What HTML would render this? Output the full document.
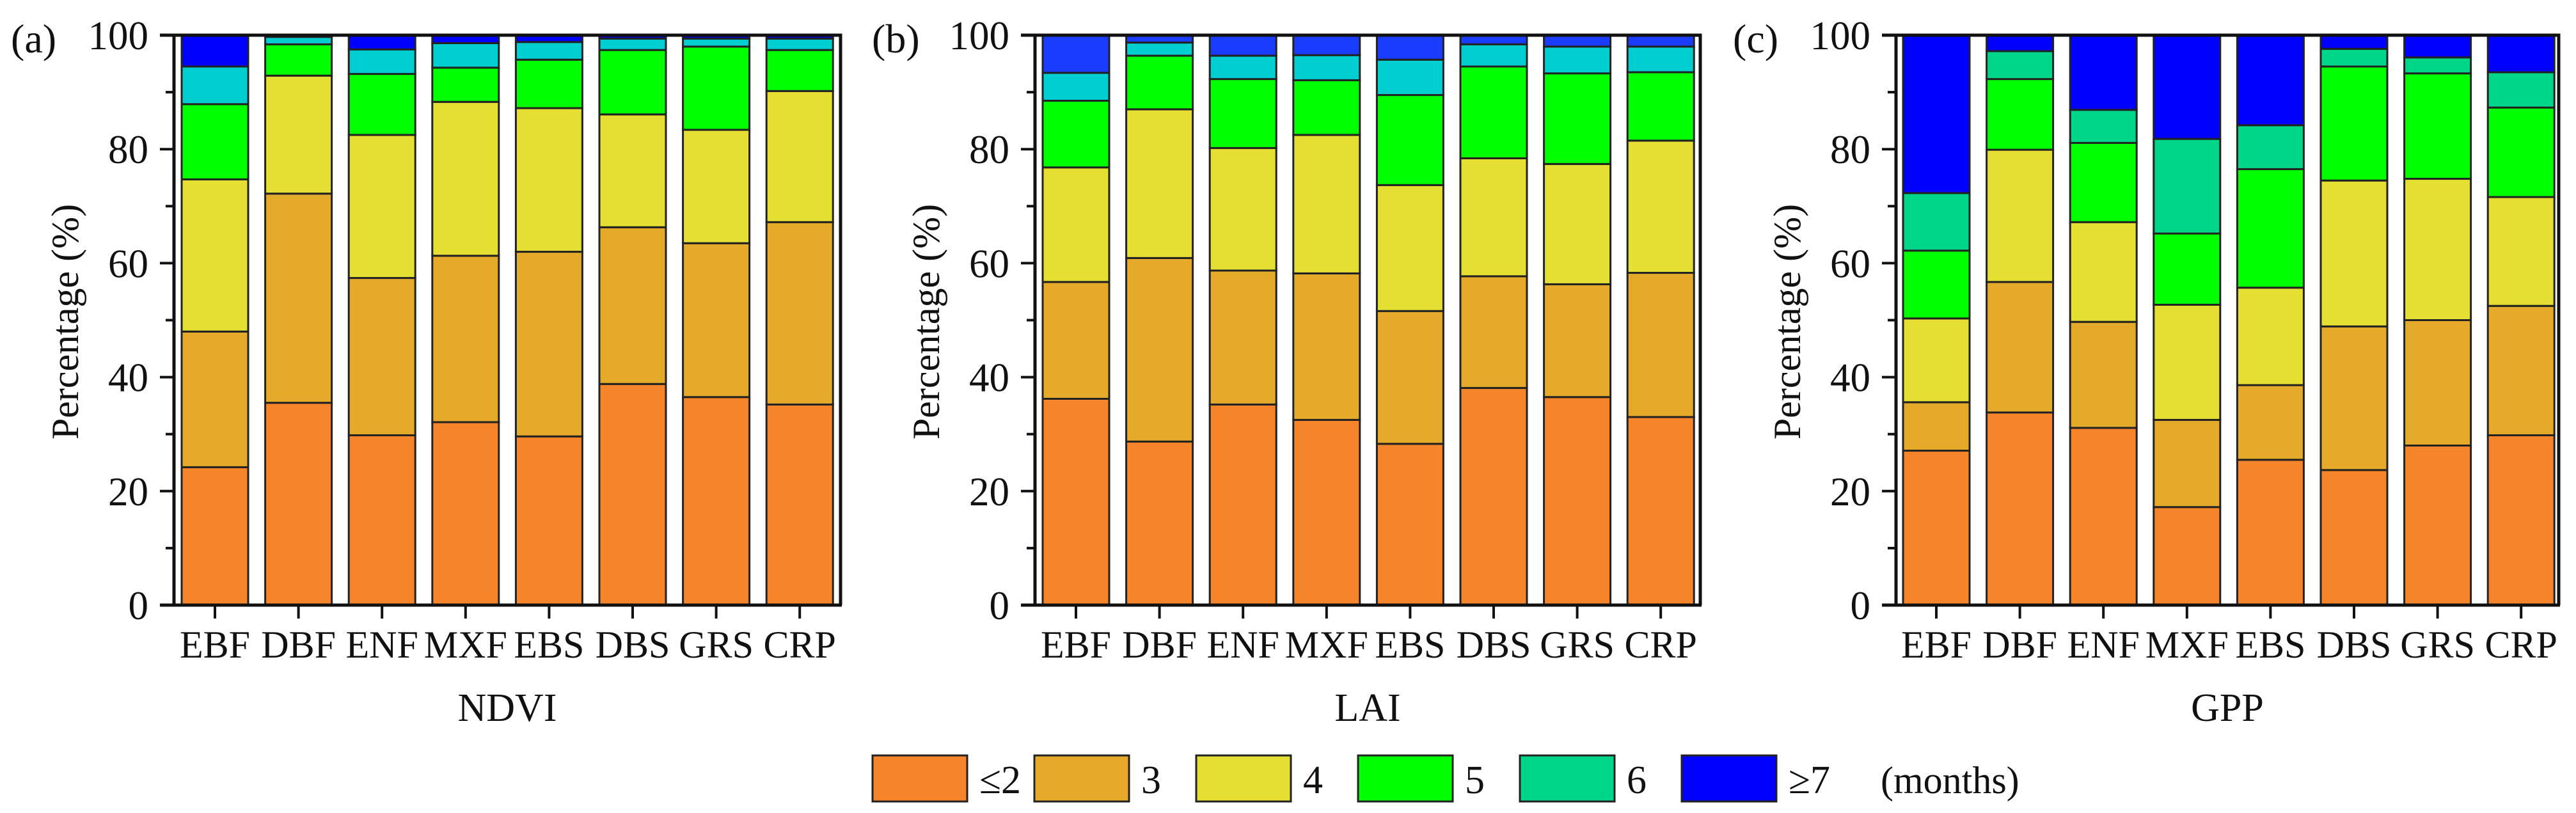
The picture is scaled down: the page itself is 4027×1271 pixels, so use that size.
<!DOCTYPE html>
<html><head><meta charset="utf-8"><style>
html,body{margin:0;padding:0;background:#fff}
svg{display:block}
text{font-family:"Liberation Serif","DejaVu Serif",serif;fill:#111}
</style></head><body>
<svg id="chart" width="4027" height="1271" viewBox="0 0 4027 1271" xmlns="http://www.w3.org/2000/svg"></svg>
<script>
const categories = ["EBF","DBF","ENF","MXF","EBS","DBS","GRS","CRP"];
const yTicks = [0,20,40,60,80,100];
const seriesLabels = ["\u22642","3","4","5","6","\u22657"];
// NDVI
const ndviLe2 = [24.2,35.5,29.8,32.1,29.6,38.8,36.5,35.2];
const ndvi3   = [23.8,36.7,27.6,29.2,32.4,27.5,27.0,32.0];
const ndvi4   = [26.7,20.7,25.1,27.0,25.2,19.8,19.9,23.0];
const ndvi5   = [13.2,5.5,10.7,6.0,8.5,11.3,14.6,7.2];
const ndvi6   = [6.6,1.3,4.3,4.3,3.1,2.0,1.4,2.0];
const ndviGe7 = [5.5,0.3,2.5,1.4,1.2,0.6,0.6,0.6];
// LAI
const laiLe2 = [36.2,28.7,35.2,32.5,28.3,38.1,36.5,33.0];
const lai3   = [20.5,32.2,23.5,25.7,23.3,19.6,19.8,25.3];
const lai4   = [20.1,26.1,21.5,24.3,22.1,20.7,21.1,23.2];
const lai5   = [11.7,9.4,12.1,9.6,15.8,16.1,15.9,12.0];
const lai6   = [4.9,2.3,4.1,4.4,6.2,3.9,4.7,4.5];
const laiGe7 = [6.6,1.3,3.6,3.5,4.3,1.6,2.0,2.0];
// GPP
const gppLe2 = [27.1,33.8,31.1,17.2,25.5,23.7,28.0,29.8];
const gpp3   = [8.5,22.9,18.6,15.3,13.1,25.2,22.0,22.7];
const gpp4   = [14.7,23.2,17.5,20.2,17.1,25.6,24.8,19.1];
const gpp5   = [11.9,12.4,13.9,12.5,20.8,20.0,18.5,15.7];
const gpp6   = [10.1,4.9,5.8,16.6,7.7,3.1,2.8,6.2];
const gppGe7 = [27.7,2.8,13.1,18.2,15.8,2.4,3.9,6.5];

const NS="http://www.w3.org/2000/svg";
const svg=document.getElementById('chart');
function mk(tag,attrs,parent){const e=document.createElementNS(NS,tag);for(const k in attrs)e.setAttribute(k,attrs[k]);(parent||svg).appendChild(e);return e;}

const panels=[
 {id:'ndvi',tag:'(a)',title:'NDVI',axisX:272,right:1314,c0:336,series:[ndviLe2,ndvi3,ndvi4,ndvi5,ndvi6,ndviGe7],colors:['#F5842A','#E5AA2A','#E5DE33','#00FF00','#00CED1','#0000FF']},
 {id:'lai',tag:'(b)',title:'LAI',axisX:1618,right:2658,c0:1682,series:[laiLe2,lai3,lai4,lai5,lai6,laiGe7],colors:['#F5842A','#E5AA2A','#E5DE33','#00FF00','#00CED1','#1A3CFF']},
 {id:'gpp',tag:'(c)',title:'GPP',axisX:2964,right:4000,c0:3027,series:[gppLe2,gpp3,gpp4,gpp5,gpp6,gppGe7],colors:['#F5842A','#E5AA2A','#E5DE33','#00FF00','#00D68A','#0000FF']}
];
const plotTop=55, plotBottom=946, step=130.6, barW=104;
function yScale(v){return plotBottom-(plotBottom-plotTop)*v/100;}
function xScale(p,i){return p.c0+step*i;}

panels.forEach(p=>{
  const g=mk('g',{});
  
  
  categories.forEach((cat,i)=>{
    let cum=0;
    p.series.forEach((s,k)=>{
      const v=s[i]; if(v<=0)return;
      const y1=yScale(cum+v), y0=yScale(cum);
      const r=mk('rect',{x:xScale(p,i)-barW/2,y:y1,width:barW,height:y0-y1,fill:p.colors[k],stroke:'#222','stroke-width':3},g);
      
      
      cum+=v;
    });
  });
  const fr=mk('path',{d:`M${p.axisX-22} ${plotTop}H${p.right}V${plotBottom}`,fill:'none',stroke:'#111','stroke-width':5},g);
  
  
  const ya=mk('line',{x1:p.axisX,y1:plotTop,x2:p.axisX,y2:plotBottom,stroke:'#111','stroke-width':5},g);
  
  
  const xa=mk('line',{x1:p.axisX-22,y1:plotBottom,x2:p.right+2,y2:plotBottom,stroke:'#111','stroke-width':5},g);
  
  
  for(let v=10;v<100;v+=20){
    const t=mk('line',{x1:p.axisX-13,y1:yScale(v),x2:p.axisX,y2:yScale(v),stroke:'#111','stroke-width':4},g);
    
    
  }
  yTicks.forEach(v=>{
    const t=mk('line',{x1:p.axisX-22,y1:yScale(v),x2:p.axisX,y2:yScale(v),stroke:'#111','stroke-width':4},g);
    
    
    const l=mk('text',{x:p.axisX-40,y:yScale(v)+22,'text-anchor':'end','font-size':63},g);
    l.textContent=v;
    
    
  });
  categories.forEach((cat,i)=>{
    const t=mk('line',{x1:xScale(p,i),y1:plotBottom,x2:xScale(p,i),y2:plotBottom+21,stroke:'#111','stroke-width':4},g);
    
    
    const l=mk('text',{x:xScale(p,i),y:1028,'text-anchor':'middle','font-size':60},g);
    l.textContent=cat;
    
    
  });
  const yt=mk('text',{x:0,y:0,'text-anchor':'middle','font-size':60,transform:`translate(${p.axisX-150},503) rotate(-90)`},g);
  yt.textContent='Percentage (%)';
  
  
  const xt=mk('text',{x:(p.axisX+p.right)/2,y:1127,'text-anchor':'middle','font-size':62},g);
  xt.textContent=p.title;
  
  
  const pt=mk('text',{x:p.axisX-255,y:82,'font-size':64},g);
  pt.textContent=p.tag;
  
  
});

const legColors=['#F5842A','#E5AA2A','#E5DE33','#00FF00','#00D68A','#0000FF'];
const lg=mk('g',{});


seriesLabels.forEach((lab,k)=>{
  const x=1364+253*k;
  const r=mk('rect',{x:x,y:1181,width:148,height:72,fill:legColors[k],stroke:'#222','stroke-width':3},lg);
  
  
  const t=mk('text',{x:x+167,y:1240,'font-size':62},lg);
  t.textContent=lab;
  
  
});
const mo=mk('text',{x:2940,y:1240,'font-size':60},lg);
mo.textContent='(months)';


</script>
</body></html>
